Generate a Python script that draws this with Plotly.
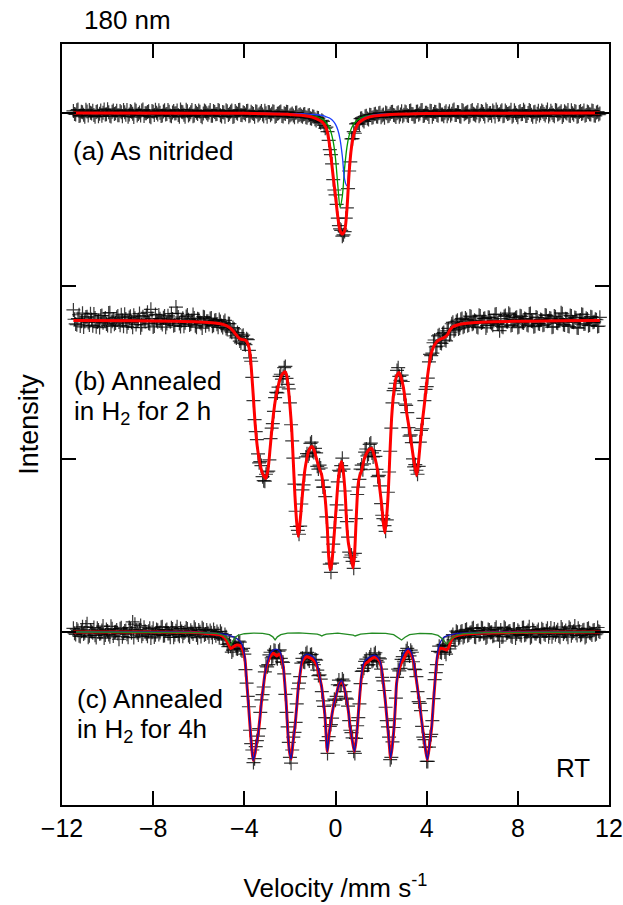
import numpy as np
import plotly.graph_objects as go

# ---------------- data ----------------
# folded spectrum: two interleaved sets of channels, 0.1 mm/s spacing each
velocity_1 = np.linspace(-11.5, 11.6, 232)
velocity_2 = np.linspace(-11.45, 11.55, 231)

# (a) As nitrided - measured intensity (stacked, arbitrary units)
counts_a_1 = [
    4.012, 3.992, 4.020, 3.985, 4.004, 3.978, 4.009, 4.017, 3.997, 3.988, 4.006, 3.981, 4.014, 4.001, 3.991, 4.022, 3.984, 4.008, 3.995, 4.013,
    3.987, 4.005, 4.018, 3.990, 3.979, 4.011, 3.996, 4.021, 3.986, 4.003, 4.015, 3.983, 3.999, 4.010, 3.976, 4.007, 4.019, 3.992, 4.002, 3.985,
    4.016, 3.994, 4.008, 3.981, 4.012, 3.998, 3.988, 4.020, 4.004, 3.979, 4.010, 3.993, 4.017, 3.986, 4.001, 4.014, 3.983, 3.997, 4.009, 3.990,
    4.018, 3.984, 4.006, 3.995, 4.013, 3.980, 4.003, 4.016, 3.989, 4.008, 3.977, 4.011, 3.996, 4.019, 3.987, 4.000, 4.012, 3.982, 4.007, 3.994,
    4.010, 3.985, 4.002, 3.991, 4.013, 3.978, 4.004, 3.996, 4.008, 3.983, 3.999, 4.009, 3.980, 3.994, 4.006, 3.986, 3.997, 3.975, 4.003, 3.988,
    3.984, 3.992, 3.975, 3.986, 3.970, 3.982, 3.964, 3.972, 3.950, 3.958, 3.928, 3.918, 3.842, 3.760, 3.615, 3.527, 3.392, 3.330, 3.288, 3.315,
    3.452, 3.665, 3.850, 3.893, 3.937, 3.943, 3.968, 3.958, 3.981, 3.968, 3.990,
    3.972, 3.993, 3.980, 3.998, 3.975, 3.991, 4.003, 3.982, 3.996, 4.008, 3.985, 3.999, 3.979, 4.010, 3.990,
    4.004, 3.983, 4.015, 3.993, 3.980, 4.009, 3.997, 4.018, 3.986, 4.002, 3.977, 4.012, 3.994, 4.006, 3.984, 4.016, 3.991, 4.001, 3.981, 4.010,
    3.996, 4.020, 3.988, 4.005, 3.978, 4.013, 3.999, 4.007, 3.985, 4.017, 3.992, 4.003, 3.982, 4.011, 3.994, 4.021, 3.987, 4.000, 4.014, 3.980,
    4.008, 3.993, 4.016, 3.984, 4.005, 3.997, 4.019, 3.986, 4.002, 3.976, 4.012, 3.995, 4.009, 3.983, 4.017, 3.990, 4.004, 3.979, 4.013, 3.998,
    4.007, 3.985, 4.020, 3.992, 4.001, 3.981, 4.014, 3.996, 4.010, 3.987, 4.003, 4.018, 3.983, 3.999, 4.011, 3.978, 4.006, 3.994, 4.015, 3.989,
    4.004, 3.991, 4.012, 3.984, 4.008, 3.997,
]
counts_a_2 = [
    3.995, 4.016, 3.983, 4.007, 3.990, 4.019, 3.986, 4.002, 4.013, 3.979, 4.010, 3.996, 3.984, 4.021, 3.993, 4.005, 3.980, 4.015, 3.999, 3.987,
    4.011, 3.982, 4.004, 4.017, 3.991, 4.008, 3.977, 4.013, 3.995, 3.985, 4.020, 3.998, 4.006, 3.981, 4.012, 3.989, 4.001, 4.016, 3.983, 4.009,
    3.992, 4.018, 3.985, 4.003, 3.997, 4.014, 3.978, 4.007, 3.990, 4.019, 3.986, 4.004, 3.981, 4.011, 3.994, 4.008, 3.976, 4.015, 3.999, 4.003,
    3.984, 4.012, 3.993, 4.018, 3.987, 4.006, 3.979, 4.010, 3.996, 4.014, 3.982, 4.001, 4.017, 3.988, 4.005, 3.991, 4.013, 3.985, 4.000, 3.978,
    4.008, 3.993, 4.011, 3.982, 3.999, 4.006, 3.987, 4.010, 3.979, 3.996, 4.004, 3.983, 3.998, 4.007, 3.976, 3.992, 3.985, 4.001, 3.980, 3.993,
    3.978, 3.995, 3.972, 3.988, 3.967, 3.978, 3.957, 3.971, 3.944, 3.952, 3.912, 3.893, 3.788, 3.706, 3.555, 3.472, 3.349, 3.322, 3.296, 3.392,
    3.563, 3.718, 3.852, 3.883, 3.941, 3.936, 3.970, 3.951, 3.984, 3.963, 3.989,
    3.975, 3.996, 3.978, 4.001, 3.986, 3.973, 3.998, 3.984, 4.006, 3.989, 3.977, 4.004, 3.992, 3.981, 4.009,
    3.987, 4.012, 3.995, 3.978, 4.007, 3.990, 4.016, 3.983, 4.001, 3.994, 4.013, 3.979, 4.008, 3.988, 4.019, 3.992, 3.981, 4.010, 3.997, 3.985,
    4.014, 3.989, 4.006, 3.982, 4.017, 3.993, 4.003, 3.977, 4.011, 3.996, 3.986, 4.018, 3.991, 4.007, 3.980, 4.012, 3.998, 3.984, 4.005, 4.020,
    3.990, 4.009, 3.981, 4.014, 3.995, 4.002, 3.978, 4.016, 3.988, 4.006, 3.993, 4.019, 3.983, 4.000, 4.011, 3.979, 4.008, 3.996, 3.986, 4.015,
    3.994, 4.004, 3.980, 4.013, 3.989, 4.018, 3.992, 4.001, 3.977, 4.010, 3.997, 3.985, 4.016, 3.990, 4.007, 3.982, 4.012, 3.999, 3.984, 4.009,
    3.993, 4.014, 3.986, 4.003, 3.991,
]

# (b) Annealed in H2 for 2 h - measured intensity
counts_b_1 = [
    2.862, 2.781, 2.812, 2.769, 2.843, 2.795, 2.822, 2.774, 2.806, 2.838, 2.765, 2.801, 2.827, 2.788, 2.815, 2.772, 2.846, 2.797, 2.779, 2.819,
    2.792, 2.834, 2.768, 2.809, 2.786, 2.825, 2.761, 2.814, 2.798, 2.841, 2.776, 2.803, 2.829, 2.785, 2.865, 2.763, 2.836, 2.794, 2.811, 2.778,
    2.826, 2.783, 2.805, 2.840, 2.771, 2.878, 2.821, 2.766, 2.813, 2.787, 2.832, 2.775, 2.800, 2.815, 2.762, 2.808, 2.784, 2.823, 2.770, 2.796,
    2.812, 2.768, 2.801, 2.779, 2.806,
    2.772, 2.790, 2.755, 2.783, 2.741, 2.760, 2.712, 2.731, 2.682, 2.709, 2.668, 2.695, 2.628, 2.565, 2.338, 2.158, 2.030, 1.985, 1.898, 1.872,
    1.925, 1.995, 2.178, 2.275, 2.385, 2.415, 2.490, 2.478, 2.535, 2.432, 2.325, 2.105, 1.855, 1.610, 1.565, 1.740, 1.851, 2.012, 2.018, 2.090,
    2.045, 2.061, 1.958, 1.965, 1.878, 1.838, 1.665, 1.462, 1.345, 1.508, 1.662, 1.868, 1.930, 2.005, 1.815, 1.638, 1.462, 1.445, 1.368, 1.655,
    1.838, 1.942, 1.938, 2.040, 2.018, 2.085, 2.035, 2.048, 1.940, 1.905, 1.742, 1.655, 1.582, 1.808, 2.045, 2.325, 2.408, 2.512, 2.478, 2.485,
    2.375, 2.310, 2.182, 2.140, 2.001, 1.968, 1.912, 2.098, 2.175, 2.338, 2.418, 2.561, 2.598, 2.672, 2.648, 2.712, 2.671, 2.725, 2.688, 2.741,
    2.718, 2.782, 2.741, 2.795, 2.752, 2.808,
    2.761, 2.815, 2.770, 2.826, 2.779, 2.802, 2.764, 2.831, 2.786, 2.811, 2.758, 2.820, 2.791, 2.773, 2.835,
    2.781, 2.742, 2.766, 2.824, 2.795, 2.843, 2.772, 2.803, 2.817, 2.760, 2.828, 2.789, 2.812, 2.776, 2.838, 2.798, 2.765, 2.821, 2.784, 2.807,
    2.773, 2.833, 2.796, 2.815, 2.762, 2.826, 2.788, 2.804, 2.845, 2.777, 2.811, 2.769, 2.829, 2.793, 2.818, 2.759, 2.801, 2.837, 2.780, 2.814,
    2.771, 2.823, 2.790, 2.808, 2.766, 2.819,
]
counts_b_2 = [
    2.808, 2.776, 2.834, 2.797, 2.763, 2.821, 2.789, 2.840, 2.771, 2.815, 2.792, 2.760, 2.829, 2.803, 2.781, 2.844, 2.767, 2.810, 2.786, 2.826,
    2.773, 2.801, 2.837, 2.764, 2.818, 2.790, 2.831, 2.777, 2.806, 2.759, 2.823, 2.795, 2.848, 2.782, 2.812, 2.769, 2.800, 2.833, 2.787, 2.816,
    2.762, 2.828, 2.793, 2.809, 2.775, 2.842, 2.784, 2.799, 2.768, 2.824, 2.805, 2.780, 2.836, 2.770, 2.811, 2.791, 2.757, 2.819, 2.796, 2.778,
    2.815, 2.773, 2.804, 2.761,
    2.795, 2.760, 2.801, 2.748, 2.782, 2.733, 2.752, 2.700, 2.722, 2.671, 2.716, 2.661, 2.690, 2.585, 2.472, 2.228, 2.112, 1.978, 1.962, 1.875,
    1.912, 1.930, 2.118, 2.205, 2.355, 2.382, 2.478, 2.462, 2.528, 2.466, 2.405, 2.198, 2.005, 1.698, 1.588, 1.612, 1.822, 1.908, 2.031, 2.030,
    2.098, 2.038, 2.035, 1.942, 1.948, 1.838, 1.782, 1.548, 1.392, 1.398, 1.602, 1.735, 1.935, 1.962, 1.942, 1.705, 1.548, 1.432, 1.408, 1.455,
    1.795, 1.882, 1.965, 1.972, 2.058, 2.028, 2.092, 2.012, 2.015, 1.898, 1.845, 1.675, 1.615, 1.648, 1.925, 2.178, 2.395, 2.438, 2.528, 2.455,
    2.448, 2.318, 2.268, 2.132, 2.095, 1.955, 1.935, 1.958, 2.165, 2.235, 2.402, 2.468, 2.605, 2.612, 2.688, 2.652, 2.718, 2.668, 2.731, 2.683,
    2.755, 2.730, 2.790, 2.748, 2.802, 2.757, 2.812,
    2.768, 2.806, 2.775, 2.822, 2.784, 2.797, 2.760, 2.827, 2.790, 2.813, 2.771, 2.818, 2.783, 2.800, 2.838,
    2.779, 2.811, 2.762, 2.829, 2.793, 2.836, 2.775, 2.806, 2.820, 2.765, 2.825, 2.786, 2.809, 2.772, 2.841, 2.795, 2.768, 2.817, 2.781, 2.803,
    2.776, 2.830, 2.799, 2.812, 2.764, 2.822, 2.785, 2.801, 2.839, 2.774, 2.808, 2.766, 2.826, 2.791, 2.815, 2.757, 2.804, 2.834, 2.782, 2.810,
    2.774, 2.820, 2.793, 2.805, 2.769,
]

# (c) Annealed in H2 for 4 h - measured intensity
counts_c_1 = [
    1.021, 0.986, 1.008, 0.974, 1.030, 0.995, 1.048, 0.979, 1.003, 1.026, 0.968, 1.011, 0.991, 1.034, 0.982, 1.006, 0.972, 1.019, 0.998, 1.012,
    0.958, 1.024, 0.993, 1.009, 0.970, 1.017, 1.058, 1.045, 0.996, 1.013, 0.975, 1.028, 0.990, 1.004, 0.966, 1.022, 0.984, 1.010, 0.997, 1.031,
    0.980, 1.014, 0.992, 1.025, 0.969, 1.007, 0.985, 1.020, 0.976, 1.002, 1.018, 0.971, 0.999, 1.027, 0.983, 1.011, 0.974, 1.016, 0.988, 0.996,
    1.008, 0.970, 0.994, 1.003, 0.967,
    0.992, 0.955, 0.972, 0.915, 0.918, 0.895, 0.937, 0.902, 0.941, 0.890, 0.872, 0.705, 0.568, 0.355, 0.245, 0.338, 0.398, 0.535, 0.638, 0.770,
    0.798, 0.868, 0.850, 0.895, 0.852, 0.889, 0.848, 0.825, 0.640, 0.452, 0.275, 0.318, 0.420, 0.585, 0.705, 0.820, 0.828, 0.875, 0.842, 0.868,
    0.825, 0.842, 0.780, 0.752, 0.655, 0.570, 0.372, 0.395, 0.465, 0.578, 0.605, 0.695, 0.690, 0.728, 0.655, 0.612, 0.488, 0.418, 0.310, 0.385,
    0.505, 0.702, 0.775, 0.830, 0.808, 0.855, 0.830, 0.872, 0.835, 0.851, 0.785, 0.718, 0.565, 0.452, 0.262, 0.365, 0.498, 0.738, 0.775, 0.842,
    0.831, 0.892, 0.878, 0.895, 0.828, 0.782, 0.655, 0.588, 0.455, 0.378, 0.252, 0.335, 0.408, 0.615, 0.765, 0.888, 0.885, 0.925, 0.884, 0.921,
    0.902, 0.972, 0.958, 1.005, 0.962, 1.001,
    0.968, 1.012, 0.979, 0.995, 1.020, 0.972, 1.006, 0.984, 1.025, 0.990, 0.966, 1.014, 0.997, 0.976, 1.018,
    0.988, 0.948, 0.971, 1.027, 0.993, 1.003, 0.978, 1.016, 0.965, 1.010, 0.986, 1.024, 0.981, 0.999, 1.031, 0.974, 1.007, 0.990, 1.015, 0.969,
    1.011, 0.983, 1.022, 0.994, 0.973, 1.017, 1.001, 0.977, 1.029, 0.989, 1.008, 0.970, 1.019, 0.996, 1.035, 0.980, 1.004, 0.987, 1.013, 0.975,
    1.021, 0.992, 1.009, 0.984, 1.026, 1.000,
]
counts_c_2 = [
    0.993, 1.017, 0.978, 1.005, 0.988, 1.029, 0.970, 1.012, 0.996, 0.981, 1.022, 0.990, 1.008, 0.965, 1.015, 0.985, 1.033, 0.977, 1.002, 0.992,
    1.019, 0.973, 1.006, 0.987, 1.026, 0.995, 0.968, 1.011, 0.982, 1.037, 0.989, 1.004, 0.976, 1.021, 0.998, 0.971, 1.014, 0.986, 1.027, 0.979,
    1.009, 0.991, 0.969, 1.018, 0.984, 1.031, 0.975, 1.003, 0.994, 1.023, 0.980, 1.010, 0.988, 1.016, 0.967, 1.001, 1.024, 0.983, 1.012, 0.972,
    0.996, 1.015, 0.978, 0.990,
    1.004, 0.962, 0.985, 0.928, 0.933, 0.884, 0.935, 0.905, 0.947, 0.898, 0.905, 0.782, 0.628, 0.432, 0.318, 0.268, 0.372, 0.442, 0.608, 0.682,
    0.805, 0.812, 0.883, 0.858, 0.891, 0.845, 0.897, 0.828, 0.758, 0.535, 0.362, 0.242, 0.392, 0.478, 0.672, 0.742, 0.848, 0.825, 0.882, 0.833,
    0.871, 0.812, 0.838, 0.748, 0.728, 0.602, 0.505, 0.298, 0.455, 0.502, 0.612, 0.628, 0.722, 0.695, 0.718, 0.618, 0.572, 0.432, 0.388, 0.298,
    0.458, 0.585, 0.772, 0.790, 0.843, 0.812, 0.868, 0.835, 0.880, 0.826, 0.845, 0.738, 0.662, 0.488, 0.392, 0.275, 0.448, 0.618, 0.785, 0.790,
    0.858, 0.842, 0.905, 0.862, 0.883, 0.785, 0.742, 0.598, 0.545, 0.392, 0.335, 0.252, 0.395, 0.488, 0.725, 0.812, 0.918, 0.880, 0.928, 0.872,
    0.935, 0.918, 0.985, 0.948, 0.998, 0.968, 1.006,
    0.975, 1.016, 0.983, 0.999, 1.024, 0.969, 1.008, 0.987, 1.021, 0.993, 0.973, 1.011, 0.998, 0.980, 1.027,
    0.986, 1.012, 0.974, 1.020, 0.995, 1.006, 0.971, 1.018, 0.988, 1.002, 0.979, 1.026, 0.985, 1.009, 0.967, 1.014, 0.992, 1.003, 0.976, 1.019,
    0.990, 1.007, 0.973, 1.023, 0.996, 0.984, 1.013, 0.970, 1.016, 0.999, 0.987, 1.028, 0.978, 1.005, 0.993, 1.021, 0.981, 1.010, 0.968, 1.017,
    0.995, 0.983, 1.012, 0.990, 1.004,
]

# ---- fitted curves ----
fit_a_x = [-11.5, -6, -4, -3, -2, -1.5, -1.2, -1.0, -0.8, -0.6, -0.5, -0.4, -0.3, -0.2, -0.1, 0.0, 0.1,
           0.2, 0.3, 0.4, 0.5, 0.6, 0.7, 0.8, 0.9, 1.0, 1.2, 1.5, 2.0, 3.0, 4.0, 6.0, 11.6]
fit_a_total = [4.0, 3.999, 3.998, 3.996, 3.992, 3.987, 3.981, 3.975, 3.965, 3.95, 3.935, 3.91, 3.85, 3.75, 3.63, 3.52, 3.40,
               3.32, 3.30, 3.32, 3.44, 3.66, 3.80, 3.875, 3.915, 3.94, 3.962, 3.978, 3.987, 3.994, 3.997, 3.999, 4.0]
fit_a_comp1 = [4.0, 3.999, 3.999, 3.998, 3.995, 3.992, 3.988, 3.984, 3.978, 3.966, 3.957, 3.943, 3.923, 3.89, 3.834, 3.738, 3.585,
               3.455, 3.52, 3.683, 3.802, 3.871, 3.912, 3.936, 3.952, 3.963, 3.976, 3.986, 3.992, 3.997, 3.998, 3.999, 4.0]
fit_a_comp2 = [4.0, 4.0, 3.999, 3.999, 3.997, 3.996, 3.994, 3.992, 3.99, 3.986, 3.983, 3.978, 3.973, 3.965, 3.953, 3.934, 3.903,
               3.848, 3.75, 3.617, 3.58, 3.698, 3.815, 3.885, 3.924, 3.946, 3.97, 3.984, 3.993, 3.997, 3.999, 3.999, 4.0]

fit_b_x = [-11.5, -9.0, -7.0, -6.0, -5.3, -5.0, -4.77, -4.6, -4.48, -4.34, -4.2, -4.05, -3.93, -3.83, -3.75, -3.68,
           -3.6, -3.53, -3.43, -3.31, -3.18, -3.06, -2.96, -2.87, -2.8, -2.73, -2.64, -2.55, -2.45, -2.36, -2.21, -2.14,
           -2.07, -2.0, -1.92, -1.85, -1.78, -1.7, -1.63, -1.56, -1.48, -1.41, -1.34, -1.26, -1.19, -1.1, -1.04, -0.95,
           -0.83, -0.72, -0.61, -0.54, -0.46, -0.36, -0.3, -0.24, -0.17, -0.1, -0.02, 0.05, 0.12, 0.2, 0.27, 0.33,
           0.42, 0.49, 0.56, 0.64, 0.7, 0.77, 0.84, 0.9, 0.95, 1.0, 1.07, 1.15, 1.26, 1.37, 1.48, 1.59,
           1.7, 1.81, 1.88, 1.95, 2.03, 2.1, 2.17, 2.24, 2.32, 2.39, 2.46, 2.53, 2.61, 2.7, 2.79, 2.88,
           2.97, 3.05, 3.12, 3.23, 3.34, 3.45, 3.56, 3.64, 3.71, 3.78, 3.85, 3.93, 4.0, 4.07, 4.15, 4.22,
           4.35, 4.5, 4.65, 4.8, 4.92, 5.02, 5.15, 5.35, 5.6, 6.0, 7.0, 8.5, 10.0, 11.6]
fit_b_total = [2.8, 2.799, 2.796, 2.792, 2.786, 2.78, 2.77, 2.755, 2.738, 2.715, 2.695, 2.69, 2.685, 2.66, 2.61, 2.50,
               2.35, 2.21, 2.07, 1.97, 1.91, 1.888, 1.94, 2.06, 2.16, 2.25, 2.34, 2.40, 2.455, 2.485, 2.505, 2.48,
               2.41, 2.31, 2.17, 1.98, 1.79, 1.63, 1.552, 1.63, 1.75, 1.86, 1.94, 2.00, 2.04, 2.065, 2.072, 2.055,
               2.00, 1.95, 1.91, 1.85, 1.78, 1.60, 1.44, 1.36, 1.39, 1.49, 1.63, 1.76, 1.88, 1.955, 1.985, 1.94,
               1.81, 1.63, 1.52, 1.46, 1.42, 1.37, 1.46, 1.63, 1.77, 1.86, 1.905, 1.935, 2.00, 2.035, 2.055, 2.062,
               2.02, 1.96, 1.90, 1.82, 1.73, 1.63, 1.573, 1.66, 1.82, 2.04, 2.233, 2.35, 2.44, 2.485, 2.50, 2.47,
               2.42, 2.35, 2.27, 2.18, 2.08, 1.98, 1.905, 1.98, 2.08, 2.18, 2.26, 2.35, 2.44, 2.51, 2.58, 2.62,
               2.66, 2.685, 2.695, 2.705, 2.72, 2.745, 2.765, 2.775, 2.782, 2.788, 2.794, 2.797, 2.799, 2.8]

fit_c_x = [-11.5, -8.0, -6.4, -5.65, -5.07, -4.85, -4.7, -4.6, -4.5, -4.33,
           -4.2, -4.11, -4.03, -3.97, -3.89, -3.83, -3.78, -3.73, -3.68, -3.61,
           -3.53, -3.46, -3.39, -3.31, -3.24, -3.16, -3.09, -2.98, -2.87, -2.73,
           -2.65, -2.58, -2.5, -2.43, -2.36, -2.29, -2.23, -2.17, -2.12, -2.07,
           -2.01, -1.95, -1.88, -1.83, -1.78, -1.7, -1.63, -1.55, -1.48, -1.38,
           -1.26, -1.12, -0.97, -0.83, -0.72, -0.61, -0.53, -0.46, -0.41, -0.36,
           -0.31, -0.25, -0.17, -0.06, 0.05, 0.16, 0.27, 0.38, 0.49, 0.57,
           0.64, 0.74, 0.83, 0.9, 0.96, 1.02, 1.07, 1.14, 1.22, 1.33,
           1.44, 1.58, 1.73, 1.85, 1.95, 2.03, 2.1, 2.18, 2.25, 2.34,
           2.42, 2.5, 2.57, 2.63, 2.68, 2.75, 2.83, 2.9, 2.97, 3.08,
           3.19, 3.3, 3.41, 3.52, 3.63, 3.74, 3.85, 3.95, 4.03, 4.12,
           4.22, 4.29, 4.36, 4.42, 4.47, 4.58, 4.7, 4.8, 4.88, 4.98,
           5.07, 5.17, 5.35, 5.75, 6.5, 8.0, 11.6]
fit_c_total = [1.0, 1.0, 0.998, 0.992, 0.983, 0.965, 0.93, 0.905, 0.912, 0.925,
               0.922, 0.91, 0.88, 0.838, 0.703, 0.60, 0.51, 0.42, 0.337, 0.257,
               0.30, 0.36, 0.414, 0.51, 0.607, 0.69, 0.761, 0.82, 0.857, 0.877,
               0.87, 0.861, 0.87, 0.873, 0.845, 0.80, 0.71, 0.607, 0.49, 0.376,
               0.30, 0.265, 0.34, 0.40, 0.451, 0.57, 0.684, 0.76, 0.819, 0.845,
               0.857, 0.85, 0.838, 0.81, 0.75, 0.684, 0.60, 0.51, 0.40, 0.308,
               0.37, 0.44, 0.51, 0.59, 0.645, 0.70, 0.713, 0.68, 0.607, 0.54,
               0.451, 0.37, 0.308, 0.37, 0.451, 0.56, 0.645, 0.74, 0.80, 0.82,
               0.829, 0.845, 0.854, 0.845, 0.829, 0.78, 0.703, 0.61, 0.51, 0.38,
               0.27, 0.35, 0.451, 0.58, 0.703, 0.76, 0.80, 0.825, 0.838, 0.87,
               0.892, 0.875, 0.838, 0.75, 0.645, 0.53, 0.414, 0.32, 0.26, 0.34,
               0.451, 0.58, 0.703, 0.80, 0.857, 0.905, 0.905, 0.90, 0.896, 0.915,
               0.95, 0.97, 0.98, 0.988, 0.994, 0.998, 1.0]
fit_c_sextet = [1.0, 1.0, 0.999, 0.996, 0.99, 0.986, 0.982, 0.978, 0.973, 0.962,
                0.948, 0.932, 0.895, 0.845, 0.703, 0.60, 0.51, 0.42, 0.337, 0.257,
                0.30, 0.36, 0.414, 0.51, 0.607, 0.69, 0.765, 0.83, 0.875, 0.895,
                0.90, 0.90, 0.895, 0.885, 0.855, 0.805, 0.71, 0.607, 0.49, 0.376,
                0.30, 0.265, 0.34, 0.40, 0.451, 0.57, 0.684, 0.765, 0.83, 0.862,
                0.872, 0.868, 0.855, 0.825, 0.76, 0.684, 0.60, 0.51, 0.40, 0.308,
                0.37, 0.44, 0.51, 0.59, 0.645, 0.70, 0.72, 0.68, 0.607, 0.54,
                0.451, 0.37, 0.308, 0.37, 0.451, 0.56, 0.65, 0.75, 0.815, 0.84,
                0.85, 0.862, 0.866, 0.855, 0.835, 0.785, 0.703, 0.61, 0.51, 0.38,
                0.27, 0.35, 0.451, 0.58, 0.703, 0.77, 0.82, 0.85, 0.87, 0.895,
                0.905, 0.89, 0.845, 0.755, 0.645, 0.53, 0.414, 0.32, 0.26, 0.34,
                0.451, 0.58, 0.703, 0.81, 0.875, 0.935, 0.962, 0.973, 0.978, 0.982,
                0.985, 0.988, 0.991, 0.994, 0.997, 0.999, 1.0]
fit_c_minor_x = [-11.5, -6.0, -5.2, -4.9, -4.75, -4.65, -4.6, -4.55, -4.45, -4.3,
                 -4.0, -3.6, -3.2, -2.9, -2.75, -2.65, -2.55, -2.4, -2.1, -1.6,
                 -1.1, -0.8, -0.67, -0.6, -0.53, -0.4, 0.1, 0.55, 0.78, 0.86,
                 0.94, 1.1, 1.6, 2.2, 2.55, 2.75, 2.9, 3.05, 3.25, 3.7,
                 4.2, 4.5, 4.7, 4.82, 4.88, 4.95, 5.1, 5.3, 5.6, 6.5, 11.6]
fit_c_minor = [1.0, 0.997, 0.992, 0.98, 0.96, 0.935, 0.925, 0.935, 0.96, 0.98,
               0.99, 0.994, 0.992, 0.985, 0.972, 0.954, 0.972, 0.985, 0.993, 0.995,
               0.993, 0.988, 0.982, 0.977, 0.982, 0.988, 0.994, 0.988, 0.982, 0.977,
               0.982, 0.988, 0.994, 0.992, 0.985, 0.97, 0.954, 0.97, 0.985, 0.992,
               0.99, 0.98, 0.96, 0.94, 0.931, 0.94, 0.965, 0.98, 0.99, 0.996, 1.0]

x_tick_vals = [-12, -8, -4, 0, 4, 8, 12]
x_tick_text = ["\u221212", "\u22128", "\u22124", "0", "4", "8", "12"]
y_tick_vals = [0, 1, 2, 3, 4]

for arr in (counts_a_1, counts_b_1, counts_c_1):
    assert len(arr) == len(velocity_1), len(arr)
for arr in (counts_a_2, counts_b_2, counts_c_2):
    assert len(arr) == len(velocity_2), len(arr)
assert len(fit_a_x) == len(fit_a_total) == len(fit_a_comp1) == len(fit_a_comp2)
assert len(fit_b_x) == len(fit_b_total)
assert len(fit_c_x) == len(fit_c_total) == len(fit_c_sextet)
assert len(fit_c_minor_x) == len(fit_c_minor)

# ---------------- figure ----------------
FONT = "Liberation Sans, Arial, Helvetica, sans-serif"
fig = go.Figure()

cross = dict(symbol="cross-thin", size=10, color="black",
             line=dict(width=1.2, color="rgba(0,0,0,0.78)"))
for vx, ys in ((velocity_1, counts_a_1), (velocity_2, counts_a_2),
               (velocity_1, counts_b_1), (velocity_2, counts_b_2),
               (velocity_1, counts_c_1), (velocity_2, counts_c_2)):
    fig.add_trace(go.Scatter(x=vx, y=ys, mode="markers", marker=cross, hoverinfo="skip"))

# (a) components under the total
fig.add_trace(go.Scatter(x=fit_a_x, y=fit_a_comp1, mode="lines",
                         line=dict(color="#009900", width=1.3, shape="spline", smoothing=0.8)))
fig.add_trace(go.Scatter(x=fit_a_x, y=fit_a_comp2, mode="lines",
                         line=dict(color="#1a3cff", width=1.3, shape="spline", smoothing=0.8)))
fig.add_trace(go.Scatter(x=fit_a_x, y=fit_a_total, mode="lines",
                         line=dict(color="#ff0000", width=3, shape="spline", smoothing=0.8)))
# (b)
fig.add_trace(go.Scatter(x=fit_b_x, y=fit_b_total, mode="lines",
                         line=dict(color="#ff0000", width=3, shape="spline", smoothing=0.6)))
# (c)
fig.add_trace(go.Scatter(x=fit_c_x, y=fit_c_total, mode="lines",
                         line=dict(color="#ff0000", width=3, shape="spline", smoothing=0.6)))
fig.add_trace(go.Scatter(x=fit_c_x, y=fit_c_sextet, mode="lines",
                         line=dict(color="#1010b0", width=1.4, shape="spline", smoothing=0.6)))
fig.add_trace(go.Scatter(x=fit_c_minor_x, y=fit_c_minor, mode="lines",
                         line=dict(color="#228b22", width=1.3)))

ann_font = dict(family=FONT, size=26, color="black")
annotations = [
    dict(text="180 nm", xref="paper", yref="paper", x=0.036, y=1.032, xanchor="left", yanchor="middle"),
    dict(text="(a) As nitrided", xref="x", yref="y", x=-11.62, y=3.78, xanchor="left", yanchor="middle"),
    dict(text="(b) Annealed", xref="x", yref="y", x=-11.58, y=2.45, xanchor="left", yanchor="middle"),
    dict(text="in H<sub>2</sub> for 2 h", xref="x", yref="y", x=-11.58, y=2.27, xanchor="left", yanchor="middle"),
    dict(text="(c) Annealed", xref="x", yref="y", x=-11.43, y=0.615, xanchor="left", yanchor="middle"),
    dict(text="in H<sub>2</sub> for 4h", xref="x", yref="y", x=-11.43, y=0.43, xanchor="left", yanchor="middle"),
    dict(text="RT", xref="x", yref="y", x=9.6, y=0.214, xanchor="left", yanchor="middle"),
]
for a in annotations:
    a.update(showarrow=False, font=ann_font)

fig.update_layout(
    width=623, height=905,
    margin=dict(l=62, r=14, t=44, b=100),
    paper_bgcolor="white", plot_bgcolor="white",
    showlegend=False,
    font=dict(family=FONT, size=25, color="black"),
    annotations=annotations,
    xaxis=dict(range=[-12, 12], tickvals=x_tick_vals, ticktext=x_tick_text,
               ticks="inside", ticklen=14, tickwidth=1.5, tickcolor="black",
               showline=True, linecolor="black", linewidth=2, mirror="ticks",
               showgrid=False, zeroline=False, ticklabelstandoff=0, automargin=False,
               tickfont=dict(family=FONT, size=25),
               title=dict(text="Velocity /mm s<sup>-1</sup>", font=dict(family=FONT, size=26), standoff=38)),
    yaxis=dict(range=[0, 4.399], tickvals=y_tick_vals, showticklabels=False,
               ticks="inside", ticklen=14, tickwidth=1.5, tickcolor="black",
               showline=True, linecolor="black", linewidth=2, mirror="ticks",
               showgrid=False, zeroline=False, automargin=False,
               title=dict(text="Intensity", font=dict(family=FONT, size=27), standoff=14)),
)

fig.write_html("out.html", config={"displayModeBar": False},
               post_script="document.body.style.margin='0px';")
